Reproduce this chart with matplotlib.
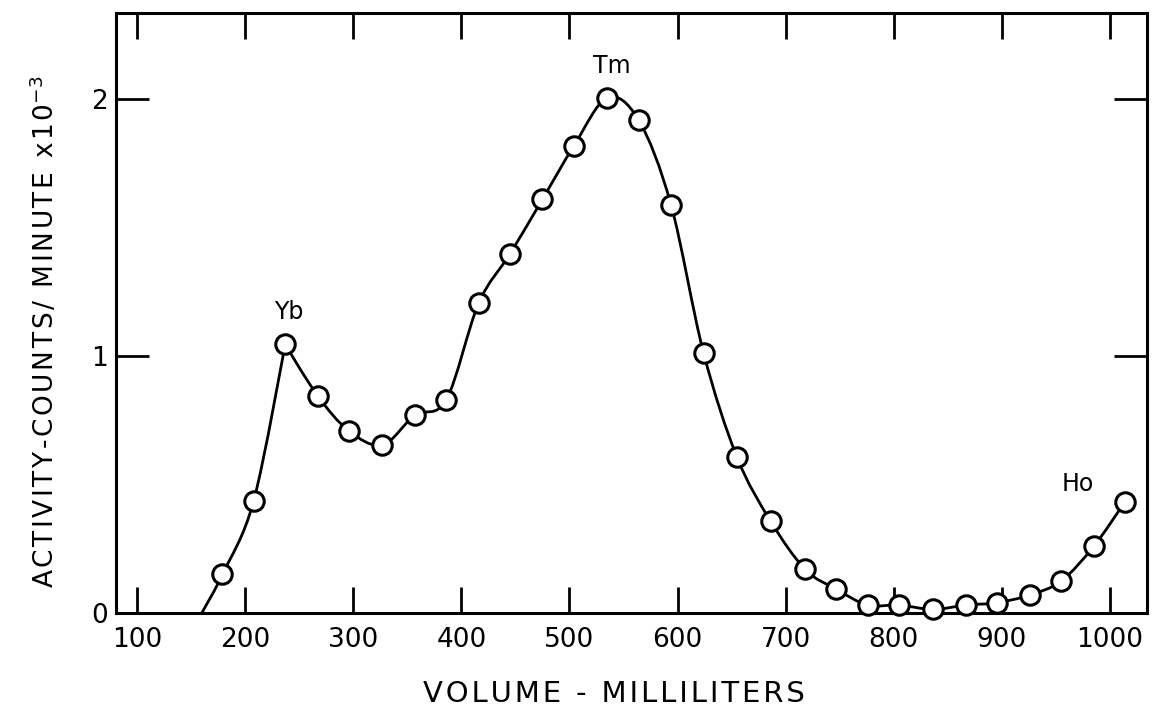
import matplotlib
matplotlib.use("Agg")
import matplotlib.pyplot as plt
from matplotlib.path import Path
from matplotlib.patches import PathPatch

# elution curve (volume in ml, activity in counts/min x 1e-3)
volume = [179, 208, 237, 267, 296, 327, 357, 386, 416, 445, 475, 504, 535, 564,
          594, 624, 655, 686, 718, 747, 776, 805, 836, 867, 895, 926, 955, 985, 1014]
activity = [0.15, 0.437, 1.046, 0.846, 0.709, 0.654, 0.77, 0.829, 1.205, 1.397,
            1.61, 1.817, 2.005, 1.918, 1.588, 1.013, 0.606, 0.358, 0.17, 0.092,
            0.031, 0.031, 0.014, 0.031, 0.04, 0.07, 0.125, 0.26, 0.433]
curve_start = (160, 0.0)   # where the drawn curve leaves the baseline
cusp_at = 237              # Yb peak drawn as a sharp point

peaks = ["Yb", "Tm", "Ho"]
peak_x = [240, 539, 970]
peak_y = [1.17, 2.127, 0.502]

xticks = [100, 200, 300, 400, 500, 600, 700, 800, 900, 1000]
yticks = [0, 1, 2]

HS = "\u200a"  # hair space, the lettering in the original is spaced out


def spaced(s):
    return HS.join(s)


def smooth_path(xs, ys, corner):
    # cubic bezier through the points (catmull-rom style tangents)
    n = len(xs)
    tx, ty = [], []
    for i in range(n):
        if xs[i] == corner:
            tx.append(0.0); ty.append(0.0)
            continue
        a = max(i - 1, 0)
        b = min(i + 1, n - 1)
        k = 0.5 if 0 < i < n - 1 else 1.0
        tx.append((xs[b] - xs[a]) * k)
        ty.append((ys[b] - ys[a]) * k)
    verts = [(xs[0], ys[0])]
    codes = [Path.MOVETO]
    for i in range(n - 1):
        verts += [(xs[i] + tx[i] / 3, ys[i] + ty[i] / 3),
                  (xs[i + 1] - tx[i + 1] / 3, ys[i + 1] - ty[i + 1] / 3),
                  (xs[i + 1], ys[i + 1])]
        codes += [Path.CURVE4] * 3
    return Path(verts, codes)


fig = plt.figure(figsize=(11.53, 7.2), dpi=100)
ax = fig.add_axes([0.1006, 0.1486, 0.8942, 0.8337])

cx = [curve_start[0]] + volume
cy = [curve_start[1]] + activity
ax.add_patch(PathPatch(smooth_path(cx, cy, cusp_at), fill=False,
                       lw=2.0, color="black", zorder=2, clip_on=False))
ax.plot(volume, activity, "o", ms=14, mfc="white", mec="black", mew=2.2,
        zorder=3, clip_on=False)

for name, px, py in zip(peaks, peak_x, peak_y):
    ax.text(px, py, name, fontsize=17, ha="center", va="center")

ax.set_xlim(80.6, 1034.2)
ax.set_ylim(0, 2.336)
ax.set_xticks(xticks)
ax.set_xticklabels([str(v) for v in xticks], fontsize=19)
ax.set_yticks(yticks)
ax.set_yticklabels([str(v) for v in yticks], fontsize=19)
ax.tick_params(axis="x", direction="in", length=19, width=2, top=True, pad=10)
ax.tick_params(axis="y", direction="in", length=24, width=2, right=True, pad=6)
for s in ax.spines.values():
    s.set_linewidth(2.2)

fig.text(45 / 1153, 1 - 332 / 720,
         spaced("ACTIVITY-COUNTS/ MINUTE x10") + "$^{-3}$",
         rotation=90, fontsize=19, ha="center", va="center")
fig.text(614 / 1153, 1 - 694 / 720, spaced("VOLUME - MILLILITERS"),
         fontsize=21, ha="center", va="center")

fig.savefig("out.png", dpi=100)
